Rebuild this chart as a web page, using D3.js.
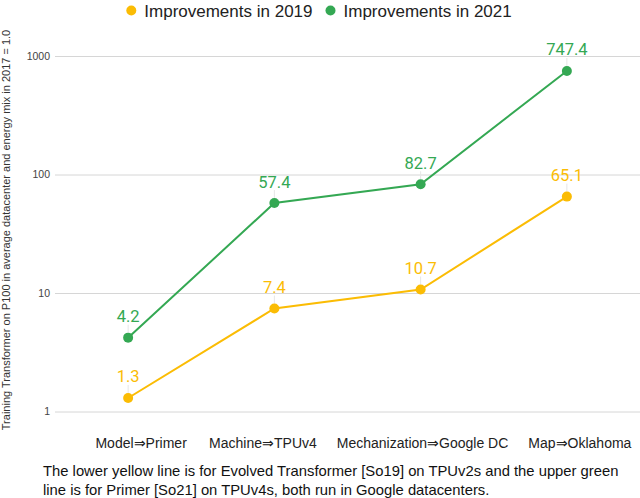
<!DOCTYPE html>
<html>
<head>
<meta charset="utf-8">
<script src="https://cdn.jsdelivr.net/npm/d3@7"></script>
<style>
  html, body { margin: 0; padding: 0; background: #fff; }
  svg { display: block; }
</style>
</head>
<body>
<svg id="chart" width="640" height="498"></svg>
<script>
const categories = ["Model⇒Primer", "Machine⇒TPUv4", "Mechanization⇒Google DC", "Map⇒Oklahoma"];
const seriesNames = ["Improvements in 2019", "Improvements in 2021"];
const values2019 = [1.3, 7.4, 10.7, 65.1];
const values2021 = [4.2, 57.4, 82.7, 747.4];
const yTicks = [1, 10, 100, 1000];
const yTitle = "Training Transformer on P100 in average datacenter and energy mix in 2017 = 1.0";
const captionLines = [
  "The lower yellow line is for Evolved Transformer [So19] on TPUv2s and the upper green",
  "line is for Primer [So21] on TPUv4s, both run in Google datacenters."
];
const colors = ["#fbbc04", "#34a853"];

const svg = d3.select("#chart");
const plot = { left: 55, right: 640, top: 56, bottom: 411.5 };

const x = d3.scaleBand().domain(categories).range([plot.left, plot.right]).padding(0);
const y = d3.scaleLog().domain([1, 1000]).range([plot.bottom, plot.top]);
const cx = c => x(c) + x.bandwidth() / 2;

// gridlines + y tick labels
const yAxis = d3.axisLeft(y).tickValues(yTicks).tickFormat(d3.format("d"))
  .tickSize(-(plot.right - plot.left)).tickPadding(5);
const gy = svg.append("g").attr("transform", `translate(${plot.left},0)`).call(yAxis);
gy.select(".domain").remove();
gy.selectAll(".tick line").attr("stroke", "#d6d6d6").attr("stroke-width", 1);
gy.selectAll(".tick text").attr("fill", "#444").style("font-family", "'Liberation Sans', Arial, sans-serif").style("font-size", "10.5px");

// y-axis title
svg.append("text")
  .attr("transform", "translate(10,230) rotate(-90)")
  .attr("text-anchor", "middle")
  .style("font-family", "'Liberation Sans', Arial, sans-serif")
  .style("font-size", "11px")
  .attr("fill", "#333")
  .text(yTitle);

// x labels: centred a little right of each point, then kept inside and apart
const xl = svg.append("g");
const labs = categories.map(c => {
  const t = xl.append("text")
    .attr("y", 448)
    .attr("text-anchor", "middle")
    .style("font-family", "'Liberation Sans', Arial, sans-serif")
    .style("font-size", "14px")
    .attr("fill", "#222")
    .text(c);
  const w = t.node().getComputedTextLength();
  return { t, w, c: cx(c) + 13 };
});
let limit = 639;
for (let i = labs.length - 1; i >= 0; i--) {
  const L = labs[i];
  if (L.c + L.w / 2 > limit) L.c = limit - L.w / 2;
  L.t.attr("x", L.c);
  limit = L.c - L.w / 2 - 20;
}

// series
const series = [values2019, values2021];
const line = d3.line().x((d, i) => cx(categories[i])).y(d => y(d));
series.forEach((vals, si) => {
  const g = svg.append("g");
  g.append("path").datum(vals).attr("d", line)
    .attr("fill", "none").attr("stroke", colors[si]).attr("stroke-width", 2);
  g.selectAll("line.lead").data(vals).join("line")
    .attr("x1", (d, i) => cx(categories[i])).attr("x2", (d, i) => cx(categories[i]))
    .attr("y1", d => y(d) - 13).attr("y2", d => y(d) - 5)
    .attr("stroke", "#e6e6e6").attr("stroke-width", 1);
  g.selectAll("circle").data(vals).join("circle")
    .attr("cx", (d, i) => cx(categories[i])).attr("cy", d => y(d))
    .attr("r", 5).attr("fill", colors[si]);
  g.selectAll("text").data(vals).join("text")
    .attr("x", (d, i) => cx(categories[i])).attr("y", d => y(d) - 15.5)
    .attr("text-anchor", "middle")
    .style("font-family", "Roboto, sans-serif")
    .style("font-size", "16.5px")
    .attr("fill", colors[si])
    .text(d => d3.format(".1f")(d));
});

// legend
const lg = svg.append("g");
let lx = 0;
seriesNames.forEach((n, i) => {
  lg.append("circle").attr("cx", lx + 5).attr("cy", 10.5).attr("r", 5).attr("fill", colors[i]);
  const t = lg.append("text").attr("x", lx + 18).attr("y", 16.5)
    .style("font-family", "'Liberation Sans', Arial, sans-serif")
    .style("font-size", "17px").attr("fill", "#222").text(n);
  lx += 18 + t.node().getComputedTextLength() + 13;
});
const lw = lx - 13;
lg.attr("transform", `translate(${319 - lw / 2},0)`);

// caption
captionLines.forEach((s, i) => {
  svg.append("text").attr("x", 43).attr("y", 476 + i * 18.5)
    .style("font-family", "'Liberation Sans', Arial, sans-serif")
    .style("font-size", "14.8px").attr("fill", "#111").text(s);
});
</script>
</body>
</html>
